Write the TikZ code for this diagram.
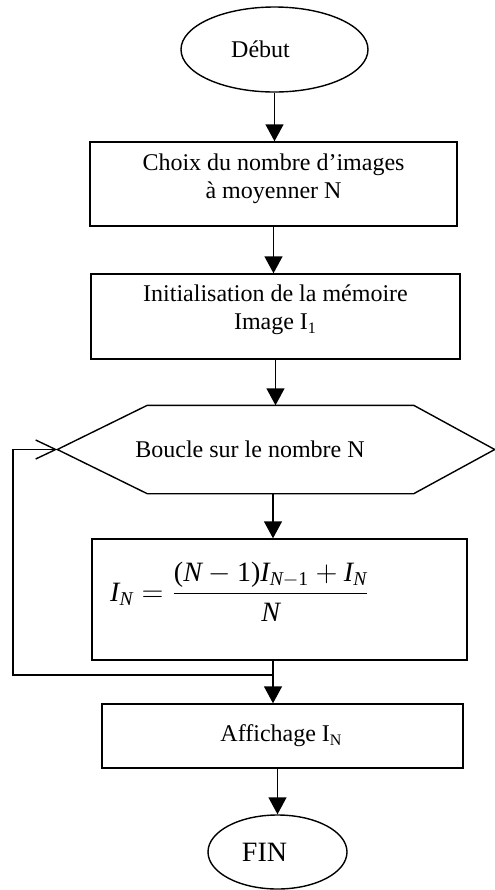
\documentclass[tikz,border=0pt]{standalone}
\usepackage{amsmath}
\usepackage{fontspec}
\setmainfont{Liberation Serif}
\usetikzlibrary{arrows.meta,shapes.geometric}
\newcommand\mI{\textit{I}}
\newcommand\mN{\textit{N}}
\begin{document}
\begin{tikzpicture}
[x=0.5pt, y=-0.5pt, font=\fontsize{12}{14}\selectfont, line width=0.7pt]
\tikzstyle{boite}=[rectangle, draw, align=center, inner sep=1pt]
\tikzstyle{bulle}=[ellipse, draw, inner sep=0pt]
\tikzstyle{fleche}=[-{Triangle[length=8.5pt, width=9pt]}]
\useasboundingbox (0,0) rectangle (494,890);
\node[bulle]	(debut)		at (274.5,49.5)	[minimum width=93.5pt, minimum height=42.5pt] {D\'ebut\hspace*{14pt}};
\node[boite]	(choix)		at (273.5,184)	[minimum width=183.5pt, minimum height=42pt] {Choix du nombre d'images\\\`a moyenner N\\[-6pt]};
\node[boite]	(init)		at (275.5,316.5)	[minimum width=184.5pt, minimum height=42.5pt] {Initialisation de la m\'emoire\\Image I\textsubscript{1}\\[-5pt]};
\node		(boucle)	at (276,449.5)	[minimum width=218pt, minimum height=43.5pt, inner sep=0pt] {Boucle sur le nombre N\hspace*{26pt}};
\node[boite]	(calcul)	at (279.5,599.5)	[minimum width=187.5pt, minimum height=60.5pt] {};
\node		(formule)	at (240,592)	[font=\fontsize{14}{16}\selectfont, inner sep=0pt]
	{$\displaystyle \mI_{\mN} = \frac{\textup{(}\mN - \textup{1)}\mI_{\mN-\textup{1}} + \mI_{\mN}\rule[-3pt]{0pt}{1pt}}{\mN\rule{0pt}{12pt}}$};
\node[boite]	(affiche)	at (282.5,736)	[minimum width=180.5pt, minimum height=32pt] {Affichage I\textsubscript{N}\hspace*{1pt}};
\node[bulle]	(fin)		at (277.5,852)	[minimum width=69.5pt, minimum height=37pt, font=\fontsize{14}{16}\selectfont] {FIN\hspace*{13pt}};

% contour du bloc de boucle
\draw	(boucle.west) -- ([xshift=45pt]boucle.north west) -- ([xshift=-40.5pt]boucle.north east)
	-- (boucle.east) -- ([xshift=-40.5pt]boucle.south east) -- ([xshift=45pt]boucle.south west) -- cycle;

\coordinate	(retour)	at (273,675);
\coordinate	(gauche)	at (13,449.5);

\draw[fleche]	(debut.south) -- (debut.south |- choix.north);
\draw[fleche]	(choix.south) -- (choix.south |- init.north);
\draw[fleche]	(init.south) -- (init.south |- boucle.north);
\draw[fleche]	(boucle.south -| retour) -- (retour |- calcul.north);
\draw[fleche]	(calcul.south -| retour) -- (retour |- affiche.north);
\draw[fleche]	(affiche.south -| fin.north) -- (fin.north);
\draw[-{Straight Barb[length=10pt, width=9.5pt]}]	(retour) -| (gauche) -- (boucle.west);
\end{tikzpicture}
\end{document}
